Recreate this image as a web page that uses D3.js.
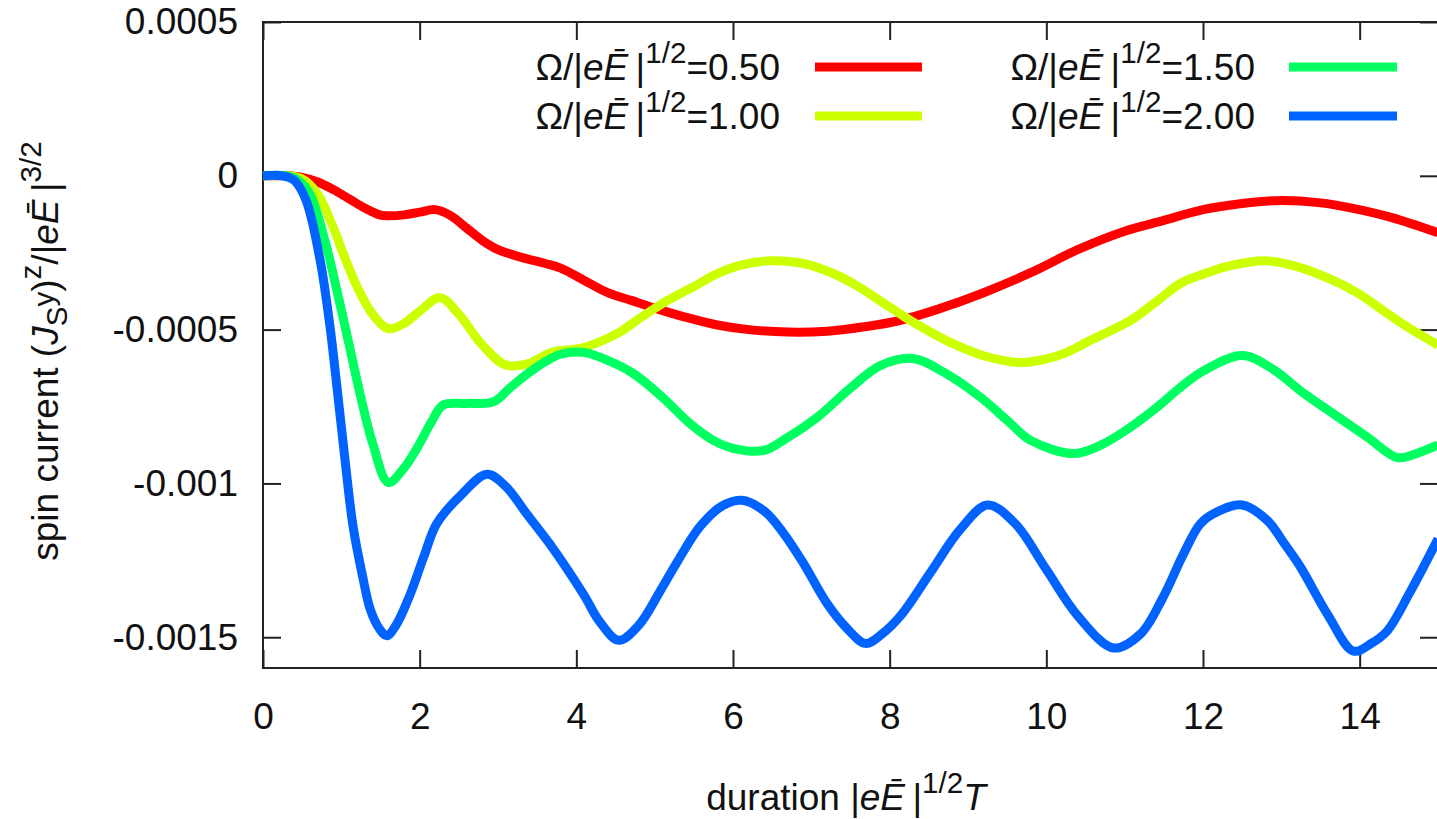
<!DOCTYPE html>
<html>
<head>
<meta charset="utf-8">
<script src="https://cdn.jsdelivr.net/npm/d3@7"></script>
<style>
  body { margin: 0; background: #fff; }
  text { font-family: "Liberation Sans", Arial, sans-serif; fill: #111; }
</style>
</head>
<body>
<div id="chart"></div>
<script>
// duration |eE|^(1/2) T  and spin current, one pair of arrays per Omega
var omegas = ["0.50", "1.00", "1.50", "2.00"];
var colors = ["#ff0000", "#ccff00", "#00ff60", "#0062ff"];

var tRed = [0, 0.3, 0.5, 0.7, 0.9, 1.1, 1.3, 1.5, 1.6, 1.8, 2.0, 2.2, 2.4, 2.6, 2.8, 3.0, 3.3, 3.6, 3.8, 4.1, 4.4, 4.7, 5.0, 5.4, 5.8, 6.2, 6.7, 7.2, 7.7, 8.1, 8.6, 9.2, 9.8, 10.4, 11.0, 11.5, 12.0, 12.5, 13.0, 13.5, 13.9, 14.4, 15.0];
var vRed = [0, 0, -0.05e-4, -0.2e-4, -0.45e-4, -0.75e-4, -1.05e-4, -1.28e-4, -1.3e-4, -1.27e-4, -1.18e-4, -1.1e-4, -1.3e-4, -1.7e-4, -2.1e-4, -2.4e-4, -2.65e-4, -2.85e-4, -3.0e-4, -3.4e-4, -3.8e-4, -4.05e-4, -4.3e-4, -4.6e-4, -4.85e-4, -5.0e-4, -5.08e-4, -5.05e-4, -4.9e-4, -4.72e-4, -4.35e-4, -3.8e-4, -3.15e-4, -2.4e-4, -1.8e-4, -1.45e-4, -1.1e-4, -0.9e-4, -0.8e-4, -0.88e-4, -1.05e-4, -1.35e-4, -1.85e-4];

var tYellow = [0, 0.3, 0.5, 0.7, 0.9, 1.02, 1.2, 1.4, 1.6, 1.8, 2.0, 2.26, 2.5, 2.8, 3.1, 3.4, 3.67, 4.09, 4.52, 4.8, 5.16, 5.5, 5.8, 6.1, 6.5, 6.9, 7.3, 7.6, 7.9, 8.2, 8.5, 8.8, 9.2, 9.67, 10.0, 10.22, 10.6, 11.07, 11.4, 11.71, 12.0, 12.3, 12.8, 13.2, 13.67, 14.0, 14.3, 14.6, 15.0];
var vYellow = [0, 0, -0.1e-4, -0.6e-4, -1.7e-4, -2.5e-4, -3.6e-4, -4.5e-4, -4.97e-4, -4.8e-4, -4.4e-4, -3.96e-4, -4.5e-4, -5.5e-4, -6.15e-4, -6.1e-4, -5.75e-4, -5.58e-4, -5.13e-4, -4.65e-4, -4.06e-4, -3.6e-4, -3.18e-4, -2.9e-4, -2.76e-4, -2.85e-4, -3.2e-4, -3.6e-4, -4.1e-4, -4.6e-4, -5.05e-4, -5.45e-4, -5.85e-4, -6.07e-4, -5.95e-4, -5.78e-4, -5.3e-4, -4.71e-4, -4.1e-4, -3.5e-4, -3.2e-4, -2.95e-4, -2.76e-4, -2.95e-4, -3.41e-4, -3.85e-4, -4.38e-4, -4.9e-4, -5.5e-4];

var tGreen = [0, 0.3, 0.45, 0.6, 0.8, 0.95, 1.1, 1.24, 1.4, 1.6, 1.8, 2.0, 2.15, 2.3, 2.6, 2.94, 3.15, 3.37, 3.6, 3.8, 4.09, 4.4, 4.73, 5.1, 5.45, 5.75, 6.0, 6.39, 6.7, 7.07, 7.5, 7.88, 8.3, 8.7, 9.16, 9.5, 9.8, 10.35, 10.7, 11.07, 11.4, 11.71, 12.0, 12.5, 12.9, 13.24, 13.7, 14.1, 14.48, 14.7, 15.0];
var vGreen = [0, 0, -0.15e-4, -0.6e-4, -2.2e-4, -3.8e-4, -5.5e-4, -7.1e-4, -8.7e-4, -9.97e-4, -9.5e-4, -8.7e-4, -8.0e-4, -7.45e-4, -7.4e-4, -7.35e-4, -6.9e-4, -6.45e-4, -6.05e-4, -5.8e-4, -5.74e-4, -6.0e-4, -6.43e-4, -7.2e-4, -8.05e-4, -8.6e-4, -8.86e-4, -8.93e-4, -8.5e-4, -7.86e-4, -6.9e-4, -6.17e-4, -5.94e-4, -6.4e-4, -7.2e-4, -7.95e-4, -8.6e-4, -9.03e-4, -8.75e-4, -8.18e-4, -7.55e-4, -6.88e-4, -6.35e-4, -5.84e-4, -6.3e-4, -6.98e-4, -7.8e-4, -8.5e-4, -9.16e-4, -9.05e-4, -8.75e-4];

var tBlue = [0, 0.25, 0.4, 0.55, 0.73, 0.85, 0.95, 1.05, 1.15, 1.27, 1.37, 1.48, 1.58, 1.7, 1.88, 2.05, 2.22, 2.52, 2.86, 3.1, 3.37, 3.67, 4.09, 4.3, 4.54, 4.8, 5.07, 5.3, 5.58, 5.85, 6.11, 6.4, 6.64, 6.9, 7.2, 7.45, 7.69, 7.9, 8.14, 8.52, 8.9, 9.25, 9.6, 10.0, 10.4, 10.86, 11.2, 11.49, 11.75, 11.97, 12.2, 12.5, 12.82, 13.05, 13.24, 13.6, 13.92, 14.15, 14.35, 14.65, 15.0];
var vBlue = [0, 0, -0.15e-4, -0.8e-4, -2.76e-4, -4.8e-4, -7.0e-4, -9.3e-4, -11.4e-4, -13.0e-4, -14.1e-4, -14.7e-4, -14.95e-4, -14.6e-4, -13.6e-4, -12.4e-4, -11.3e-4, -10.4e-4, -9.7e-4, -10.1e-4, -11.0e-4, -12.0e-4, -13.6e-4, -14.5e-4, -15.1e-4, -14.6e-4, -13.5e-4, -12.5e-4, -11.4e-4, -10.75e-4, -10.55e-4, -10.9e-4, -11.6e-4, -12.6e-4, -13.9e-4, -14.7e-4, -15.2e-4, -14.9e-4, -14.3e-4, -12.9e-4, -11.5e-4, -10.7e-4, -11.3e-4, -12.8e-4, -14.3e-4, -15.35e-4, -14.9e-4, -13.7e-4, -12.3e-4, -11.3e-4, -10.9e-4, -10.7e-4, -11.2e-4, -12.0e-4, -12.7e-4, -14.3e-4, -15.45e-4, -15.2e-4, -14.8e-4, -13.5e-4, -11.8e-4];

var xTicks = [0, 2, 4, 6, 8, 10, 12, 14];
var yTicks = [0.0005, 0, -0.0005, -0.001, -0.0015];
var yTickLabels = ["0.0005", "0", "-0.0005", "-0.001", "-0.0015"];

var series = [
	{ t: tRed, v: vRed },
	{ t: tYellow, v: vYellow },
	{ t: tGreen, v: vGreen },
	{ t: tBlue, v: vBlue }
];

(function() {
	var w = 1437,
		h = 819;
	var pL = 263, pR = 1438, pT = 22, pB = 668;
	var fs = 37;

	var svg = d3.select("#chart").append("svg").attr("width", w).attr("height", h);

	var x = d3.scaleLinear().domain([0, 15]).range([pL, pR]);
	var y = d3.scaleLinear().domain([0.0005, -0.0016]).range([pT, pB]);

	// axes, gnuplot style: ticks pointing inward, mirrored on top and right
	var gx = svg.append("g").attr("transform", "translate(0," + pB + ")")
		.call(d3.axisBottom(x).tickValues(xTicks).tickFormat(d3.format("d")).tickSizeInner(-18).tickSizeOuter(0).tickPadding(35));
	var gy = svg.append("g").attr("transform", "translate(" + pL + ",0)")
		.call(d3.axisLeft(y).tickValues(yTicks).tickFormat(function(d, i) { return yTickLabels[i]; }).tickSizeInner(-18).tickSizeOuter(0).tickPadding(25));
	var gx2 = svg.append("g").attr("transform", "translate(0," + pT + ")")
		.call(d3.axisTop(x).tickValues(xTicks).tickFormat("").tickSizeInner(-18).tickSizeOuter(0));
	var gy2 = svg.append("g").attr("transform", "translate(" + pR + ",0)")
		.call(d3.axisRight(y).tickValues(yTicks).tickFormat("").tickSizeInner(-18).tickSizeOuter(0));

	[gx, gy, gx2, gy2].forEach(function(g) {
		g.select(".domain").remove();
		g.selectAll("line").attr("stroke", "#222").attr("stroke-width", 2);
		g.selectAll("text").style("font-size", fs + "px").attr("fill", "#111")
			.style("font-family", "'Liberation Sans', Arial, sans-serif");
	});

	svg.append("rect").attr("x", pL).attr("y", pT).attr("width", pR - pL).attr("height", pB - pT)
		.attr("fill", "none").attr("stroke", "#222").attr("stroke-width", 2);

	// rich text helper: parts = [text, italic, small, shift]
	function richText(g, parts) {
		var t = g.append("text").style("font-size", fs + "px");
		var cur = 0;
		parts.forEach(function(p) {
			var shift = p[3] || 0;
			var span = t.append("tspan").text(p[0]);
			if (p[1]) span.style("font-style", "italic");
			if (p[2]) span.style("font-size", (fs * 0.8) + "px");
			if (shift !== cur) {
				span.attr("dy", (cur - shift) * fs);
				cur = shift;
			}
		});
		return t;
	}

	function omegaLabel(val) {
		return [["Ω/|"], ["eĒ", true], ["\u2009|"], ["1/2", false, true, 0.45], ["=" + val, false, false, 0]];
	}

	// curves
	var line = d3.line().x(function(d) { return x(d[0]); }).y(function(d) { return y(d[1]); })
		.curve(d3.curveCatmullRom.alpha(0.5));

	series.forEach(function(s, i) {
		var pts = s.t.map(function(t, j) { return [t, s.v[j]]; });
		svg.append("path").datum(pts).attr("d", line).attr("fill", "none")
			.attr("stroke", colors[i]).attr("stroke-width", 9)
			.attr("stroke-linejoin", "round").attr("stroke-linecap", "butt");
	});

	// legend
	var legendPos = [[780, 80, 815, 922, 67], [780, 129, 815, 922, 116], [1255, 80, 1289, 1397, 67], [1255, 129, 1289, 1397, 116]];
	omegas.forEach(function(o, i) {
		var p = legendPos[i];
		var g = svg.append("g").attr("transform", "translate(" + p[0] + "," + p[1] + ")");
		richText(g, omegaLabel(o)).attr("text-anchor", "end");
		svg.append("line").attr("x1", p[2]).attr("x2", p[3]).attr("y1", p[4]).attr("y2", p[4])
			.attr("stroke", colors[i]).attr("stroke-width", 9);
	});

	// axis titles
	var gxt = svg.append("g").attr("transform", "translate(846,810)");
	richText(gxt, [["duration |"], ["eĒ", true], ["\u2009|"], ["1/2", false, true, 0.45], ["T", true, false, 0]]).attr("text-anchor", "middle");

	var gyt = svg.append("g").attr("transform", "translate(58,351) rotate(-90)");
	richText(gyt, [["spin current ("], ["J", true], ["S", false, true, -0.25], ["y", false, true, 0.1], [")", false, false, 0],
		["z", false, true, 0.45], ["/|", false, false, 0], ["eĒ", true], ["\u2009|"], ["3/2", false, true, 0.45]]).attr("text-anchor", "middle");
})();
</script>
</body>
</html>
